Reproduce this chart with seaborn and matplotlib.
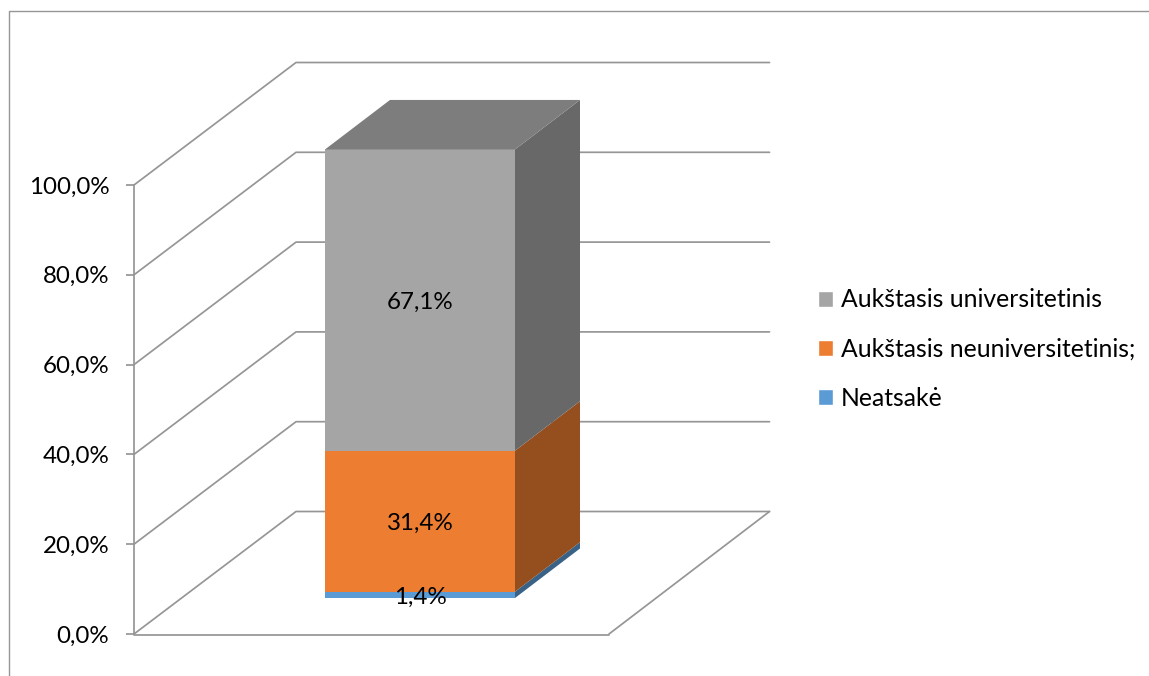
import matplotlib
matplotlib.use("Agg")
import matplotlib.pyplot as plt
import matplotlib.colors as mcolors
from matplotlib.patches import Polygon, Patch
from matplotlib.lines import Line2D
import seaborn as sns

levels = ["Neatsakė", "Aukštasis neuniversitetinis;", "Aukštasis universitetinis"]
values = [1.4, 31.4, 67.1]
labels = ["1,4%", "31,4%", "67,1%"]
colors = ["#5B9BD5", "#ED7D31", "#A5A5A5"]
ticks = [0, 20, 40, 60, 80, 100]
tick_labels = ["0,0%", "20,0%", "40,0%", "60,0%", "80,0%", "100,0%"]

W, H = 1149, 676
FS = 17.4
FS_LEG = 17.85
sns.set_theme(style="white")
plt.rcParams["font.family"] = ["Lato", "DejaVu Sans"]
fig = plt.figure(figsize=(W / 100, H / 100), dpi=100, facecolor="white")

# front plane of the chart box
ax = fig.add_axes([134 / W, (H - 634) / H, 475 / W, 449 / H])
ax.set_xlim(-0.5, 0.5)
ax.set_ylim(0, 100)
ux = 1 / 475          # x units per pixel
uy = 100 / 449        # y units per pixel
dx_wall, dy_wall = 162 * ux, 122.5 * uy   # depth of the chart box
bar_w = 190 * ux
bar_gap_x, bar_gap_y = 191 * ux, 36 * uy  # bar's inset from the front plane
dx_bar, dy_bar = 65 * ux, 49.5 * uy       # bar's own depth
x_l = -0.5
x_r = 0.5
wall_end = x_r + 160.5 * ux
grid = "#969696"
lw = 1.25

for t in ticks:
    ax.add_line(Line2D([x_l, x_l + dx_wall, wall_end],
                       [t, t + dy_wall, t + dy_wall],
                       color=grid, lw=lw, clip_on=False, zorder=1))
ax.add_line(Line2D([x_r, wall_end], [0, dy_wall], color=grid, lw=lw, clip_on=False, zorder=1))
ax.add_line(Line2D([x_l, x_r], [-0.2, -0.2], color=grid, lw=lw, clip_on=False, zorder=1))

# bar front faces through seaborn
x0 = x_l + bar_gap_x + bar_w / 2
bottoms = []
b = bar_gap_y
for v in values:
    bottoms.append(b)
    b += v
for lev, v, bot, c in zip(levels, values, bottoms, colors):
    sns.barplot(x=[x0], y=[v], bottom=bot, color=c, saturation=1, width=bar_w,
                native_scale=True, ax=ax, zorder=3, clip_on=False, linewidth=0)
ax.set_xlim(-0.5, 0.5)
ax.set_ylim(0, 100)

xa = x0 - bar_w / 2
xb = x0 + bar_w / 2


def shade(c, f):
    r, g, bl = mcolors.to_rgb(c)
    return (r * f, g * f, bl * f)


for v, bot, c, lab in zip(values, bottoms, colors, labels):
    ax.add_patch(Polygon([(xb, bot), (xb + dx_bar, bot + dy_bar),
                          (xb + dx_bar, bot + v + dy_bar), (xb, bot + v)],
                         closed=True, fc=shade(c, 0.63), ec="none", clip_on=False, zorder=3))
    ax.text((xa + xb) / 2, bot + v / 2 - 2 * uy, lab, ha="center", va="center",
            fontsize=FS, color="#000000", zorder=5, clip_on=False)
top = bottoms[-1] + values[-1]
ax.add_patch(Polygon([(xa, top), (xb, top), (xb + dx_bar, top + dy_bar), (xa + dx_bar, top + dy_bar)],
                     closed=True, fc=shade(colors[-1], 0.76), ec="none", clip_on=False, zorder=3))

ax.set_xticks([])
ax.set_yticks(ticks)
ax.set_yticklabels(tick_labels, fontsize=FS, color="#000000")
ax.set_xlabel("")
ax.set_ylabel("")
ax.tick_params(axis="y", length=5.8, width=lw, color=grid, pad=12, left=True)
for s in ["top", "right", "bottom"]:
    ax.spines[s].set_visible(False)
ax.spines["left"].set_color(grid)
ax.spines["left"].set_linewidth(lw)
ax.patch.set_alpha(0)

handles = [Patch(fc=colors[2]), Patch(fc=colors[1]), Patch(fc=colors[0])]
fig.legend(handles, [levels[2], levels[1], levels[0]], loc="center left",
           bbox_to_anchor=(818 / W, (H - 349) / H), frameon=False, fontsize=FS_LEG,
           handlelength=0.605, handleheight=0.605, handletextpad=0.32, labelspacing=1.05,
           labelcolor="#000000", borderpad=0, borderaxespad=0)

# chart frame: top and left only are inside the picture
fig.add_artist(Line2D([8.5 / W, 8.5 / W, 1], [0, (H - 11) / H, (H - 11) / H],
                      color="#969696", lw=1, transform=fig.transFigure))
fig.savefig("out.png", dpi=100, facecolor="white")
